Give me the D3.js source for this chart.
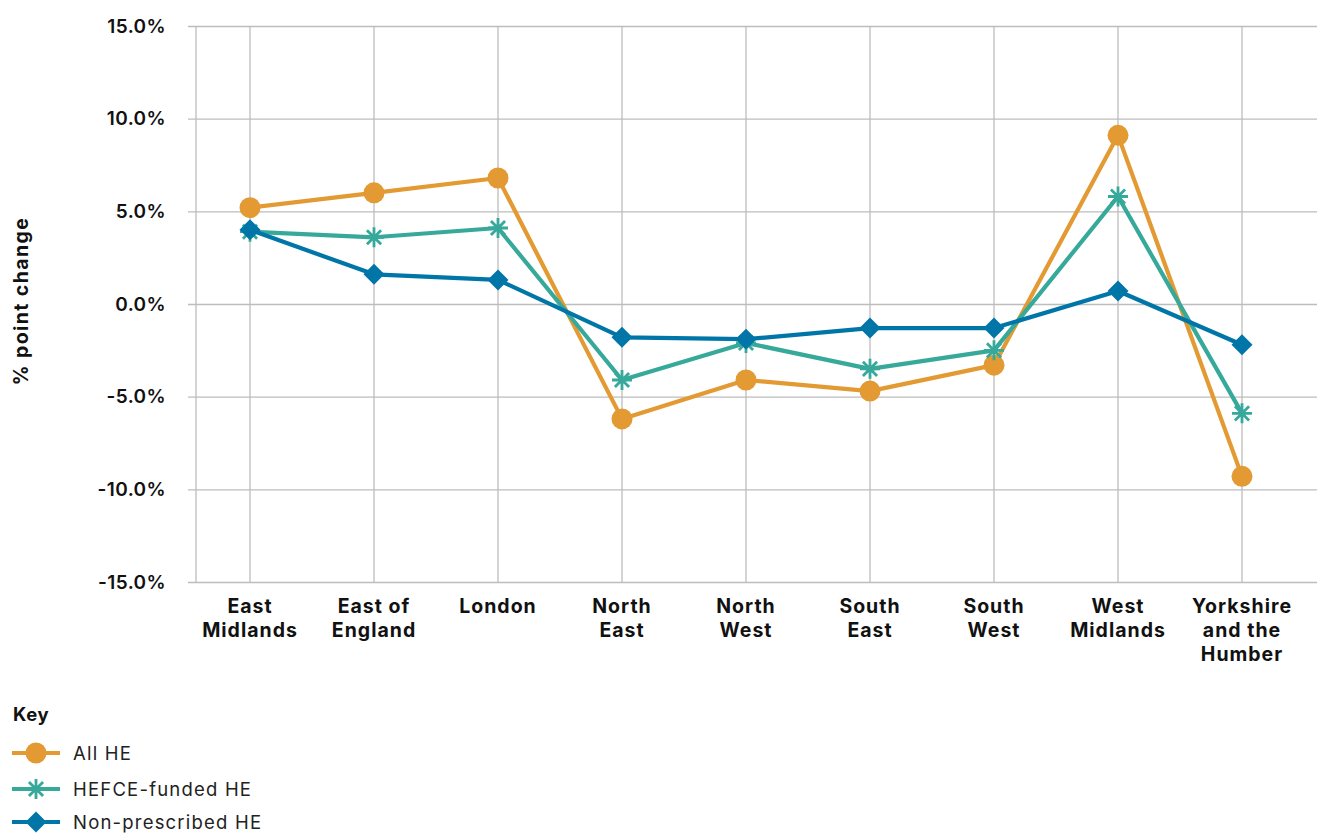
<!DOCTYPE html>
<html>
<head>
<meta charset="utf-8">
<script src="https://cdn.jsdelivr.net/npm/d3@7"></script>
<style>
  body { margin: 0; background: #fff; }
  svg { display: block; font-family: Inter, "Liberation Sans", Arial, sans-serif; }
</style>
</head>
<body>
<svg id="chart" width="1317" height="833"></svg>
<script>
// Regions and their label lines
const regions = [
  ["East", "Midlands"],
  ["East of", "England"],
  ["London"],
  ["North", "East"],
  ["North", "West"],
  ["South", "East"],
  ["South", "West"],
  ["West", "Midlands"],
  ["Yorkshire", "and the", "Humber"]
];

// % point change by region
const allHE        = [5.2, 6.0, 6.8, -6.2, -4.1, -4.7, -3.3, 9.1, -9.3];
const hefceFunded  = [3.9, 3.6, 4.1, -4.1, -2.1, -3.5, -2.5, 5.8, -5.9];
const nonPrescribed = [4.0, 1.6, 1.3, -1.8, -1.9, -1.3, -1.3, 0.7, -2.2];

const yTicks = [15, 10, 5, 0, -5, -10, -15];

const seriesNames = ["All HE", "HEFCE-funded HE", "Non-prescribed HE"];
const seriesColors = ["#E39A32", "#36A99B", "#0076A8"];
const seriesMarkers = ["circle", "asterisk", "diamond"];

const svg = d3.select("#chart");
const grid = "#BDBDBD";

const plot = { left: 196, right: 1317, top: 26, bottom: 582 };
const bandLeft = 188, bandRight = 1304;

const x = d3.scaleBand()
  .domain(d3.range(regions.length))
  .range([bandLeft, bandRight]);
const xc = i => x(i) + x.bandwidth() / 2;

const y = d3.scaleLinear().domain([-15, 15]).range([plot.bottom, plot.top]);

// horizontal gridlines + y tick labels
const yAxis = d3.axisLeft(y)
  .tickValues(yTicks)
  .tickSize(-(plot.right - bandLeft))
  .tickPadding(22)
  .tickFormat(d => d.toFixed(1) + "%");

const gy = svg.append("g")
  .attr("transform", `translate(${bandLeft},0)`)
  .call(yAxis);
gy.select(".domain").remove();
gy.selectAll(".tick line").attr("stroke", grid).attr("stroke-width", 1.3);
gy.selectAll(".tick text")
  .attr("fill", "#111")
  .attr("font-family", "Inter, 'Liberation Sans', Arial, sans-serif")
  .attr("font-size", 19)
  .attr("font-weight", 600)
  .attr("letter-spacing", "0.4px");

// vertical gridlines at each region and the axis line
svg.append("g")
  .selectAll("line")
  .data(d3.range(regions.length))
  .join("line")
  .attr("x1", d => xc(d)).attr("x2", d => xc(d))
  .attr("y1", plot.top).attr("y2", plot.bottom)
  .attr("stroke", grid).attr("stroke-width", 1.3);

svg.append("line")
  .attr("x1", plot.left).attr("x2", plot.left)
  .attr("y1", plot.top).attr("y2", plot.bottom)
  .attr("stroke", grid).attr("stroke-width", 1.3);

// category labels
const xl = svg.append("g");
regions.forEach((lines, i) => {
  const t = xl.append("text")
    .attr("x", xc(i))
    .attr("y", 613)
    .attr("text-anchor", "middle")
    .attr("font-size", 19.5)
    .attr("font-weight", 700)
    .attr("letter-spacing", "1px")
    .attr("fill", "#111");
  lines.forEach((ln, k) => {
    t.append("tspan").attr("x", xc(i)).attr("dy", k === 0 ? 0 : 24).text(ln);
  });
});

// y axis title
svg.append("text")
  .attr("transform", "translate(28,301) rotate(-90)")
  .attr("text-anchor", "middle")
  .attr("font-size", 19.5)
  .attr("font-weight", 700)
  .attr("letter-spacing", "1.4px")
  .attr("fill", "#111")
  .text("% point change");

// marker drawing
function drawMarker(g, type, color, cx, cy, scale) {
  const s = scale || 1;
  if (type === "circle") {
    g.append("circle").attr("cx", cx).attr("cy", cy).attr("r", 10.5 * s).attr("fill", color);
  } else if (type === "diamond") {
    const r = 10.5 * s;
    g.append("path")
      .attr("d", `M${cx},${cy - r}L${cx + r},${cy}L${cx},${cy + r}L${cx - r},${cy}Z`)
      .attr("fill", color);
  } else {
    const r = 10 * s;
    const d = [0, 45, 90, 135].map(a => {
      const rad = a * Math.PI / 180;
      const dx = r * Math.sin(rad), dy = r * Math.cos(rad);
      return `M${cx - dx},${cy - dy}L${cx + dx},${cy + dy}`;
    }).join("");
    g.append("path").attr("d", d).attr("stroke", color).attr("stroke-width", 2.8).attr("fill", "none");
  }
}

const seriesValues = [allHE, hefceFunded, nonPrescribed];
const line = d3.line().x((d, i) => xc(i)).y(d => y(d));

// draw in order: All HE, HEFCE, Non-prescribed (non-prescribed on top)
seriesValues.forEach((vals, si) => {
  const g = svg.append("g");
  g.append("path")
    .datum(vals)
    .attr("d", line)
    .attr("fill", "none")
    .attr("stroke", seriesColors[si])
    .attr("stroke-width", 4.2)
    .attr("stroke-linejoin", "round");
  vals.forEach((v, i) => drawMarker(g, seriesMarkers[si], seriesColors[si], xc(i), y(v)));
});

// legend
svg.append("text")
  .attr("x", 13).attr("y", 721)
  .attr("font-size", 18.5)
  .attr("font-weight", 700)
  .attr("letter-spacing", "0.6px")
  .attr("fill", "#111")
  .text("Key");

const legendY = [753, 789, 822];
seriesNames.forEach((name, si) => {
  const g = svg.append("g");
  const ly = legendY[si];
  g.append("line")
    .attr("x1", 12).attr("x2", 60)
    .attr("y1", ly).attr("y2", ly)
    .attr("stroke", seriesColors[si]).attr("stroke-width", 4.2);
  drawMarker(g, seriesMarkers[si], seriesColors[si], 36, ly, 1);
  g.append("text")
    .attr("x", 73).attr("y", ly + 6.5)
    .attr("font-size", 18.5)
    .attr("font-weight", 400)
    .attr("letter-spacing", "1.2px")
    .attr("fill", "#222")
    .text(name);
});
</script>
</body>
</html>
